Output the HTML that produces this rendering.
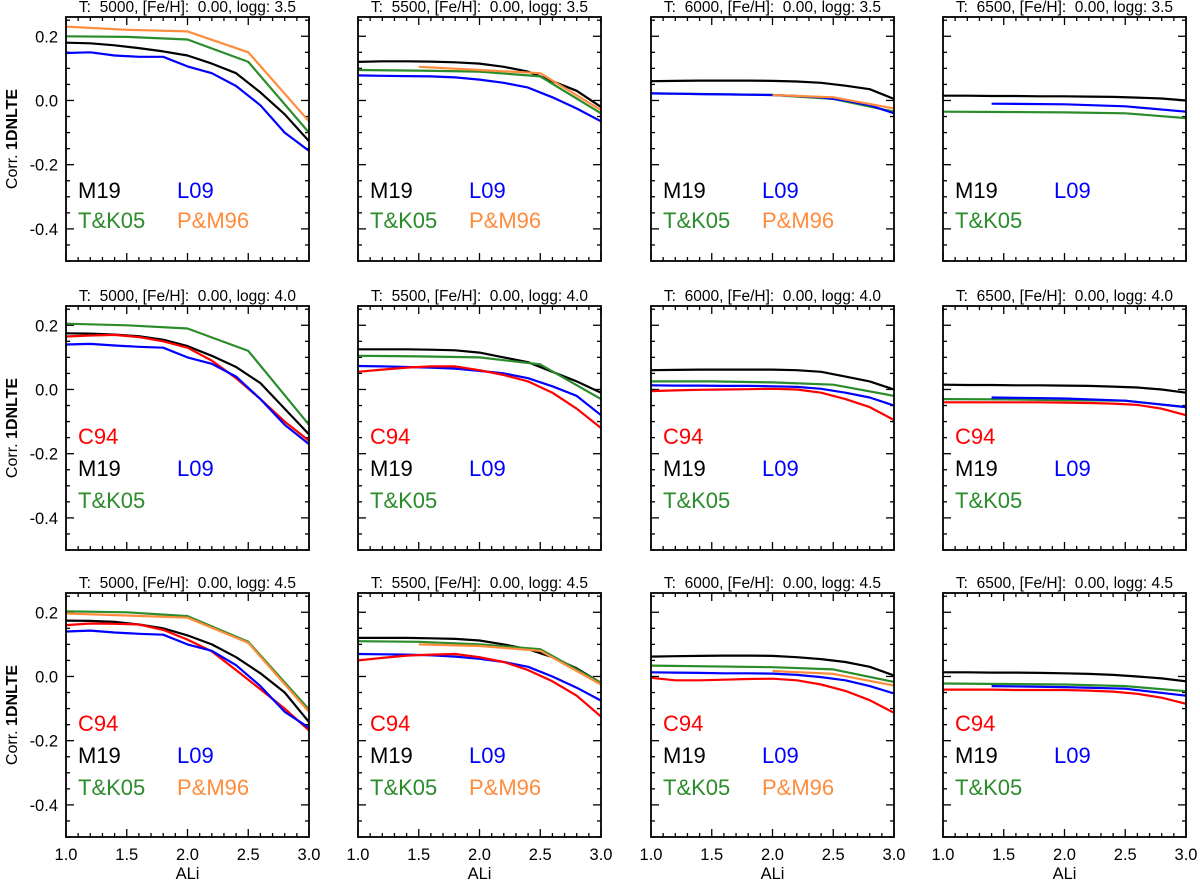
<!DOCTYPE html>
<html><head><meta charset="utf-8"><style>
html,body{margin:0;padding:0;background:#fff}
svg{display:block;font-family:"Liberation Sans",Arial,sans-serif}
svg text{white-space:pre}
</style></head><body>
<svg id="chart" width="1200" height="881" viewBox="0 0 1200 881" xmlns="http://www.w3.org/2000/svg"></svg>
<script>
// ---- data ----
const temps = [5000, 5500, 6000, 6500];
const loggs = ["3.5", "4.0", "4.5"];
const xTicks = [1.0, 1.5, 2.0, 2.5, 3.0];
const yTicks = [0.2, 0.0, -0.2, -0.4];
const xFull = [1.0,1.2,1.4,1.6,1.8,2.0,2.2,2.4,2.6,2.8,3.0];
const xCoarse = [1.0,1.5,2.0,2.5,3.0];
const xFrom15 = [1.5,2.0,2.5,3.0];
const xFrom14 = [1.4,2.0,2.5,3.0];
const xFrom20 = [2.0,2.5,3.0];
const xSparse = [1.0,2.0,2.5,3.0];
// Row 1 (logg 3.5)
const r1c1_M19 = [0.18,0.178,0.172,0.163,0.153,0.14,0.115,0.085,0.025,-0.043,-0.127];
const r1c1_L09 = [0.148,0.15,0.14,0.136,0.136,0.106,0.085,0.045,-0.015,-0.1,-0.157];
const r1c1_TK05 = [0.2,0.198,0.19,0.12,-0.1];
const r1c1_PM96 = [0.23,0.22,0.215,0.15,-0.065];
const r1c2_M19 = [0.12,0.122,0.122,0.121,0.119,0.115,0.105,0.09,0.06,0.03,-0.02];
const r1c2_L09 = [0.078,0.077,0.076,0.075,0.072,0.065,0.055,0.04,0.01,-0.025,-0.065];
const r1c2_TK05 = [0.095,0.093,0.09,0.075,-0.04];
const r1c2_PM96 = [0.105,0.095,0.085,-0.03];
const r1c3_M19 = [0.06,0.061,0.062,0.062,0.062,0.061,0.059,0.055,0.046,0.035,0.005];
const r1c3_L09 = [0.022,0.021,0.02,0.019,0.018,0.017,0.014,0.01,0.0,-0.015,-0.04];
const r1c3_TK05 = [0.022,0.02,0.017,0.005,-0.035];
const r1c3_PM96 = [0.017,0.01,-0.025];
const r1c4_M19 = [0.015,0.015,0.014,0.014,0.013,0.013,0.012,0.011,0.009,0.006,0.0];
const r1c4_L09 = [-0.01,-0.012,-0.018,-0.035];
const r1c4_TK05 = [-0.035,-0.036,-0.037,-0.04,-0.055];
// Row 2 (logg 4.0)
const r2c1_C94 = [0.165,0.168,0.17,0.163,0.15,0.13,0.09,0.035,-0.03,-0.1,-0.16];
const r2c1_M19 = [0.175,0.174,0.171,0.166,0.155,0.135,0.105,0.07,0.02,-0.06,-0.14];
const r2c1_L09 = [0.14,0.142,0.137,0.133,0.13,0.1,0.08,0.04,-0.03,-0.11,-0.17];
const r2c1_TK05 = [0.205,0.2,0.19,0.12,-0.11];
const r2c2_C94 = [0.055,0.062,0.068,0.072,0.072,0.06,0.045,0.025,-0.01,-0.06,-0.12];
const r2c2_M19 = [0.125,0.125,0.125,0.124,0.122,0.115,0.1,0.085,0.055,0.025,-0.01];
const r2c2_L09 = [0.073,0.072,0.07,0.068,0.065,0.058,0.05,0.035,0.01,-0.02,-0.08];
const r2c2_TK05 = [0.105,0.103,0.1,0.078,-0.03];
const r2c3_C94 = [-0.005,-0.003,-0.001,0.0,0.001,0.002,0.0,-0.01,-0.03,-0.055,-0.095];
const r2c3_M19 = [0.06,0.061,0.062,0.062,0.062,0.062,0.06,0.055,0.04,0.025,0.0];
const r2c3_L09 = [0.013,0.012,0.012,0.011,0.011,0.01,0.008,0.002,-0.01,-0.025,-0.05];
const r2c3_TK05 = [0.025,0.025,0.022,0.015,-0.02];
const r2c4_C94 = [-0.04,-0.04,-0.04,-0.04,-0.04,-0.041,-0.042,-0.044,-0.048,-0.06,-0.08];
const r2c4_M19 = [0.015,0.014,0.014,0.013,0.013,0.012,0.011,0.009,0.006,0.0,-0.01];
const r2c4_L09 = [-0.025,-0.028,-0.035,-0.055];
const r2c4_TK05 = [-0.03,-0.031,-0.033,-0.035,-0.055];
// Row 3 (logg 4.5)
const r3c1_C94 = [0.16,0.165,0.164,0.162,0.145,0.115,0.078,0.02,-0.04,-0.1,-0.168];
const r3c1_M19 = [0.174,0.173,0.17,0.162,0.15,0.128,0.1,0.06,0.01,-0.05,-0.142];
const r3c1_L09 = [0.14,0.143,0.137,0.133,0.13,0.1,0.08,0.035,-0.03,-0.11,-0.16];
const r3c1_TK05 = [0.203,0.2,0.188,0.108,-0.103];
const r3c1_PM96 = [0.196,0.19,0.183,0.105,-0.11];
const r3c2_C94 = [0.05,0.058,0.065,0.068,0.07,0.06,0.045,0.02,-0.015,-0.06,-0.125];
const r3c2_M19 = [0.12,0.12,0.12,0.119,0.117,0.112,0.1,0.085,0.06,0.025,-0.02];
const r3c2_L09 = [0.07,0.069,0.068,0.066,0.062,0.055,0.045,0.03,0.0,-0.035,-0.075];
const r3c2_TK05 = [0.11,0.108,0.1,0.085,-0.02];
const r3c2_PM96 = [0.1,0.095,0.08,-0.025];
const r3c3_C94 = [-0.004,-0.012,-0.012,-0.01,-0.008,-0.007,-0.012,-0.025,-0.045,-0.074,-0.113];
const r3c3_M19 = [0.062,0.063,0.064,0.065,0.065,0.064,0.06,0.054,0.045,0.03,0.003];
const r3c3_L09 = [0.013,0.012,0.011,0.01,0.01,0.009,0.005,-0.002,-0.012,-0.03,-0.053];
const r3c3_TK05 = [0.034,0.029,0.022,-0.017];
const r3c3_PM96 = [0.017,0.008,-0.028];
const r3c4_C94 = [-0.041,-0.041,-0.041,-0.042,-0.042,-0.042,-0.044,-0.047,-0.054,-0.066,-0.085];
const r3c4_M19 = [0.013,0.013,0.012,0.012,0.011,0.01,0.008,0.005,0.0,-0.006,-0.015];
const r3c4_L09 = [-0.03,-0.033,-0.038,-0.06];
const r3c4_TK05 = [-0.022,-0.025,-0.03,-0.046];

const COL = {M19:"#000000", L09:"#0000ff", TK05:"#2a8c2a", PM96:"#ff8c3c", C94:"#ff0000"};
const panels = [
 [ [["PM96",xCoarse,r1c1_PM96],["TK05",xCoarse,r1c1_TK05],["M19",xFull,r1c1_M19],["L09",xFull,r1c1_L09]],
   [["M19",xFull,r1c2_M19],["TK05",xCoarse,r1c2_TK05],["PM96",xFrom15,r1c2_PM96],["L09",xFull,r1c2_L09]],
   [["M19",xFull,r1c3_M19],["TK05",xCoarse,r1c3_TK05],["L09",xFull,r1c3_L09],["PM96",xFrom20,r1c3_PM96]],
   [["M19",xFull,r1c4_M19],["L09",xFrom14,r1c4_L09],["TK05",xCoarse,r1c4_TK05]] ],
 [ [["TK05",xCoarse,r2c1_TK05],["M19",xFull,r2c1_M19],["C94",xFull,r2c1_C94],["L09",xFull,r2c1_L09]],
   [["M19",xFull,r2c2_M19],["TK05",xCoarse,r2c2_TK05],["L09",xFull,r2c2_L09],["C94",xFull,r2c2_C94]],
   [["M19",xFull,r2c3_M19],["TK05",xCoarse,r2c3_TK05],["L09",xFull,r2c3_L09],["C94",xFull,r2c3_C94]],
   [["M19",xFull,r2c4_M19],["TK05",xCoarse,r2c4_TK05],["L09",xFrom14,r2c4_L09],["C94",xFull,r2c4_C94]] ],
 [ [["TK05",xCoarse,r3c1_TK05],["PM96",xCoarse,r3c1_PM96],["M19",xFull,r3c1_M19],["C94",xFull,r3c1_C94],["L09",xFull,r3c1_L09]],
   [["M19",xFull,r3c2_M19],["TK05",xCoarse,r3c2_TK05],["PM96",xFrom15,r3c2_PM96],["L09",xFull,r3c2_L09],["C94",xFull,r3c2_C94]],
   [["M19",xFull,r3c3_M19],["TK05",xSparse,r3c3_TK05],["PM96",xFrom20,r3c3_PM96],["L09",xFull,r3c3_L09],["C94",xFull,r3c3_C94]],
   [["M19",xFull,r3c4_M19],["TK05",xSparse,r3c4_TK05],["L09",xFrom14,r3c4_L09],["C94",xFull,r3c4_C94]] ]
];
const colX = [66, 358, 651, 943];
const rowY = [17, 306, 593];
const PW = 243, PH = 244;
const YMIN = -0.5, YMAX = 0.26;

const svg = document.getElementById('chart');
const NS = "http://www.w3.org/2000/svg";
function mk(tag, attrs, parent){
  const e = document.createElementNS(NS, tag);
  for (const k in attrs) e.setAttribute(k, attrs[k]);
  (parent||svg).appendChild(e); return e;
}
function label(txt, x, y, size, anchor, fill, parent){
  const t = mk('text', {x:x, y:y, 'font-size':size, 'text-anchor':anchor, fill:fill}, parent);
  t.textContent = txt; return t;
}

for (let r = 0; r < 3; r++){
  for (let c = 0; c < 4; c++){
    const x0 = colX[c], y0 = rowY[r];
    const sx = v => x0 + (v - 1.0) / 2.0 * PW;
    const sy = v => y0 + (YMAX - v) / (YMAX - YMIN) * PH;
    const g = mk('g', {});
    
    
    const title = label('T:  ' + temps[c] + ', [Fe/H]:  0.00, logg: ' + loggs[r], x0 + PW/2, y0 - 5, 15.5, 'middle', '#000', g);
    
    
    for (let i = 0; i <= 20; i++){
      const v = 1.0 + i * 0.1, px = sx(v), len = (i % 5 === 0) ? 8 : 4;
      mk('line', {x1:px, x2:px, y1:y0+PH, y2:y0+PH-len, stroke:'#000', 'stroke-width':1.3}, g);
      mk('line', {x1:px, x2:px, y1:y0, y2:y0+len, stroke:'#000', 'stroke-width':1.3}, g);
    }
    for (let i = -10; i <= 5; i++){
      const v = i * 0.05; if (v > YMAX) continue;
      const py = sy(v), len = (i % 4 === 0) ? 8 : 4;
      mk('line', {x1:x0, x2:x0+len, y1:py, y2:py, stroke:'#000', 'stroke-width':1.3}, g);
      mk('line', {x1:x0+PW, x2:x0+PW-len, y1:py, y2:py, stroke:'#000', 'stroke-width':1.3}, g);
    }
    if (c === 0){
      yTicks.forEach(v => {
        const t = label(v.toFixed(1), x0 - 8, sy(v) + 6, 16.5, 'end', '#000', g);
        
        
      });
      const yt = mk('text', {transform:'translate(17,' + (y0+PH/2) + ') rotate(-90)', 'font-size':16, 'text-anchor':'middle'}, g);
      
      
      yt.innerHTML = 'Corr. <tspan font-weight="bold">1DNLTE</tspan>';
    }
    if (r === 2){
      xTicks.forEach(v => {
        const t = label(v.toFixed(1), sx(v), y0 + PH + 23, 16.5, 'middle', '#000', g);
        
        
      });
      const xt = label('ALi', x0 + PW/2, y0 + PH + 42, 16.5, 'middle', '#000', g);
      
      
    }
    const present = {};
    panels[r][c].forEach(s => {
      const key = s[0], xs = s[1], ys = s[2];
      present[key] = true;
      const pts = ys.map((v, i) => sx(xs[i]).toFixed(1) + ',' + sy(v).toFixed(1)).join(' ');
      const pl = mk('polyline', {points:pts, fill:'none', stroke:COL[key], 'stroke-width':2.2, 'stroke-linejoin':'round'}, g);
      
      
    });
    mk('rect', {x:x0, y:y0, width:PW, height:PH, fill:'none', stroke:'#000', 'stroke-width':1.8}, g);
    const names = {M19:'M19', L09:'L09', TK05:'T&K05', PM96:'P&M96', C94:'C94'};
    let yM, yT;
    if (r === 0){ yM = y0 + 181; yT = y0 + 211; }
    else {
      yM = y0 + 170; yT = y0 + 202;
      const t = label(names.C94, x0 + 12, y0 + 138, 22, 'start', COL.C94, g);
      
      
    }
    const l1 = label(names.M19, x0 + 12, yM, 22, 'start', COL.M19, g);
    
    
    const l2 = label(names.L09, x0 + 111, yM, 22, 'start', COL.L09, g);
    
    
    const l3 = label(names.TK05, x0 + 12, yT, 22, 'start', COL.TK05, g);
    
    
    if (present.PM96){
      const l4 = label(names.PM96, x0 + 111, yT, 22, 'start', COL.PM96, g);
      
      
    }
  }
}
</script>
</body></html>
